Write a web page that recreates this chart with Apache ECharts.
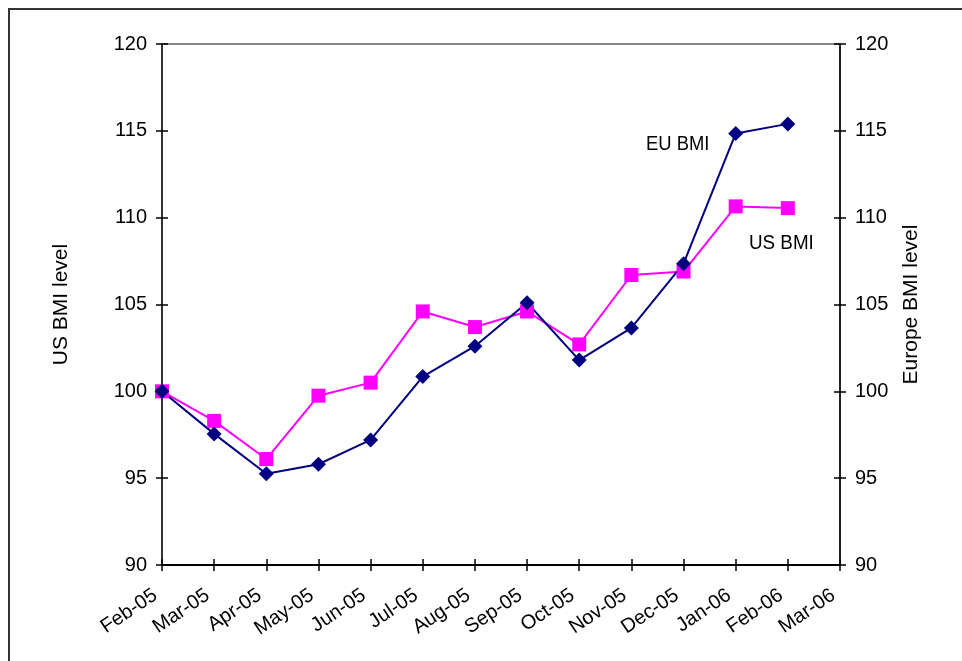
<!DOCTYPE html>
<html>
<head>
<meta charset="utf-8">
<script src="https://cdn.jsdelivr.net/npm/echarts@6/dist/echarts.min.js"></script>
<style>
  html, body { margin: 0; padding: 0; background: #fff; }
  #chart { width: 962px; height: 661px; }
</style>
</head>
<body>
<div id="chart"></div>
<script>
// Monthly index levels, rebased to 100 in Feb-05
const months = ['Feb-05', 'Mar-05', 'Apr-05', 'May-05', 'Jun-05', 'Jul-05', 'Aug-05',
                'Sep-05', 'Oct-05', 'Nov-05', 'Dec-05', 'Jan-06', 'Feb-06', 'Mar-06'];
const usBmi = [100, 98.3, 96.1, 99.75, 100.5, 104.6, 103.7, 104.6, 102.7, 106.7, 106.9, 110.65, 110.55, null];
const euBmi = [100, 97.55, 95.25, 95.8, 97.2, 100.85, 102.6, 105.1, 101.8, 103.65, 107.35, 114.85, 115.4, null];

const axisMin = 90, axisMax = 120, axisStep = 5;
const FONT = '"Liberation Sans", Arial, sans-serif';
const TXT = '#000';

const chart = echarts.init(document.getElementById('chart'), null, { renderer: 'canvas' });

function valueAxis(pos, withLabels, inside, name, nameGap) {
  return {
    type: 'value', position: pos, min: axisMin, max: axisMax, interval: axisStep,
    name: name || '', nameLocation: 'middle', nameRotate: 90, nameGap: nameGap || 0,
    nameTextStyle: { fontFamily: FONT, fontSize: 21, color: TXT },
    axisLine: { show: withLabels, lineStyle: { color: pos === 'left' ? '#333' : '#000', width: pos === 'left' ? 2 : 1.5 } },
    axisTick: { show: true, inside: inside, length: 6, lineStyle: { color: '#000', width: 1.5 } },
    axisLabel: { show: withLabels, margin: 15, fontFamily: FONT, fontSize: 20, color: TXT },
    splitLine: { show: false }
  };
}

function categoryAxis(withLabels, inside) {
  return {
    type: 'category', position: 'bottom', data: months, boundaryGap: false,
    axisLine: { show: withLabels, onZero: false, lineStyle: { color: '#000', width: 2 } },
    axisTick: { show: true, inside: inside, length: 6, interval: 0, lineStyle: { color: '#000', width: 1.5 } },
    axisLabel: { show: withLabels, interval: 0, rotate: 34, margin: 24, padding: [0, 8, 0, 0],
                 fontFamily: FONT, fontSize: 20, color: TXT },
    splitLine: { show: false }
  };
}

chart.setOption({
  animation: false,
  backgroundColor: '#fff',
  grid: { left: 162, right: 122, top: 44, bottom: 96, show: true, borderColor: '#888', borderWidth: 2, backgroundColor: 'transparent' },
  xAxis: [categoryAxis(true, false), categoryAxis(false, true)],
  yAxis: [
    valueAxis('left', true, false, 'US BMI level', 90),
    valueAxis('left', false, true),
    valueAxis('right', true, false, 'Europe BMI level', 61),
    valueAxis('right', false, true)
  ],
  series: [
    {
      name: 'US BMI', type: 'line', data: usBmi, xAxisIndex: 0, yAxisIndex: 0,
      symbol: 'rect', symbolSize: 14,
      lineStyle: { color: '#FF00FF', width: 2 },
      itemStyle: { color: '#FF00FF' }
    },
    {
      name: 'EU BMI', type: 'line', data: euBmi, xAxisIndex: 0, yAxisIndex: 2,
      symbol: 'diamond', symbolSize: 15,
      lineStyle: { color: '#000080', width: 2 },
      itemStyle: { color: '#000080' }
    }
  ],
  graphic: [
    { type: 'rect', silent: true, shape: { x: 9, y: 9, width: 1000, height: 700 },
      style: { fill: null, stroke: '#333', lineWidth: 2 } },
    { type: 'text', x: 646, y: 144, scaleX: 0.92,
      style: { text: 'EU BMI', font: '20px ' + FONT, fill: TXT, align: 'left', verticalAlign: 'middle' } },
    { type: 'text', x: 749, y: 243, scaleX: 0.94,
      style: { text: 'US BMI', font: '20px ' + FONT, fill: TXT, align: 'left', verticalAlign: 'middle' } }
  ]
});
</script>
</body>
</html>
